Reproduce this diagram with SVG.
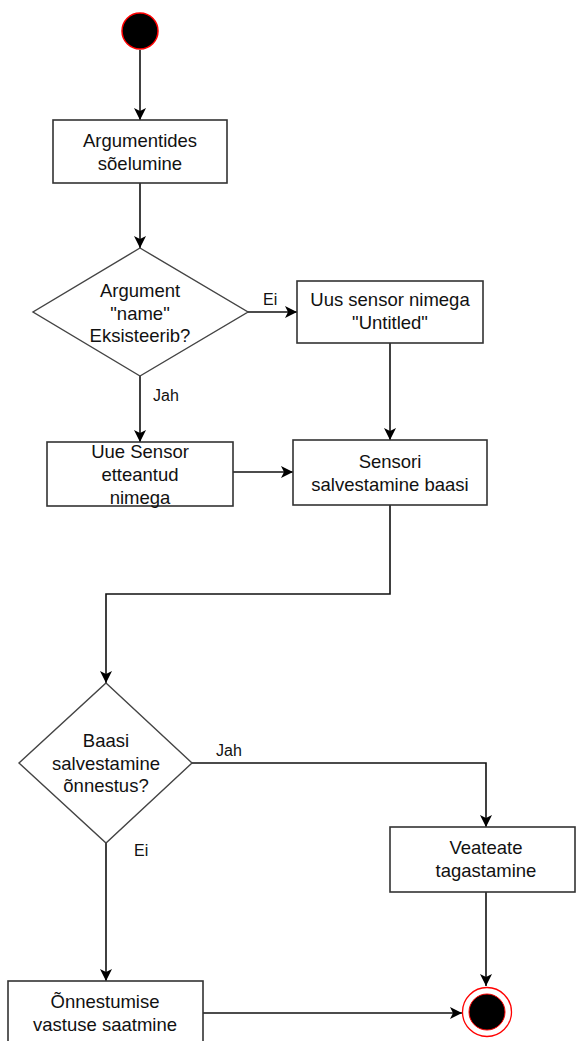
<svg xmlns="http://www.w3.org/2000/svg" width="576" height="1041" viewBox="0 0 576 1041">
  <style>
    .box { fill: #ffffff; stroke: #333333; stroke-width: 1.6; }
    .dia { fill: #ffffff; stroke: #444444; stroke-width: 1.4; }
    .txt { font-family: "Liberation Sans", Arial, sans-serif; font-size: 18.5px; fill: #111111; text-anchor: middle; }
    .lbl { font-family: "Liberation Sans", Arial, sans-serif; font-size: 16px; fill: #111111; }
    .edge { fill: none; stroke: #111111; stroke-width: 1.6; }
  </style>
  <defs>
    <marker id="arrow" viewBox="0 0 12 12" refX="12" refY="6" markerWidth="12" markerHeight="12" markerUnits="userSpaceOnUse" orient="auto">
      <path d="M0,0 L12,6 L0,12 L3,6 z" fill="#000000"/>
    </marker>
  </defs>

  <!-- connectors -->
  <g id="connectors">
    <line class="edge" x1="140" y1="50" x2="140" y2="120" marker-end="url(#arrow)"/>
    <line class="edge" x1="140" y1="183" x2="140" y2="248" marker-end="url(#arrow)"/>
    <line class="edge" x1="248" y1="312" x2="297" y2="312" marker-end="url(#arrow)"/>
    <line class="edge" x1="140" y1="376" x2="140" y2="442" marker-end="url(#arrow)"/>
    <line class="edge" x1="390" y1="343" x2="390" y2="440" marker-end="url(#arrow)"/>
    <line class="edge" x1="233" y1="472" x2="293" y2="472" marker-end="url(#arrow)"/>
    <polyline class="edge" points="390,505 390,594 106,594 106,683" marker-end="url(#arrow)"/>
    <polyline class="edge" points="192,763 486,763 486,827" marker-end="url(#arrow)"/>
    <line class="edge" x1="486" y1="892" x2="486" y2="986" marker-end="url(#arrow)"/>
    <line class="edge" x1="106" y1="843" x2="106" y2="981" marker-end="url(#arrow)"/>
    <line class="edge" x1="203" y1="1013" x2="462" y2="1013" marker-end="url(#arrow)"/>
    <text class="lbl" x="263" y="305">Ei</text>
    <text class="lbl" x="153" y="401">Jah</text>
    <text class="lbl" x="216" y="756">Jah</text>
    <text class="lbl" x="134" y="856">Ei</text>
  </g>

  <!-- start -->
  <g id="start">
    <circle cx="140" cy="31" r="18" fill="#000000" stroke="#ff0000" stroke-width="1.5"/>
  </g>

  <g id="parse-args">
    <rect class="box" x="53" y="120" width="174" height="63"/>
    <text class="txt" x="140" y="147">Argumentides</text>
    <text class="txt" x="140" y="170">sõelumine</text>
  </g>

  <g id="name-exists">
    <polygon class="dia" points="140,248 248,312 140,376 33,312"/>
    <text class="txt" x="140" y="297">Argument</text>
    <text class="txt" x="140" y="319.5">"name"</text>
    <text class="txt" x="140" y="342">Eksisteerib?</text>
  </g>

  <g id="sensor-untitled">
    <rect class="box" x="297" y="281" width="186" height="62"/>
    <text class="txt" x="390" y="306">Uus sensor nimega</text>
    <text class="txt" x="390" y="329">"Untitled"</text>
  </g>

  <g id="sensor-named">
    <rect class="box" x="47" y="442" width="186" height="64"/>
    <text class="txt" x="140" y="458">Uue Sensor</text>
    <text class="txt" x="140" y="481">etteantud</text>
    <text class="txt" x="140" y="504">nimega</text>
  </g>

  <g id="save-sensor">
    <rect class="box" x="293" y="440" width="194" height="65"/>
    <text class="txt" x="390" y="468">Sensori</text>
    <text class="txt" x="390" y="491">salvestamine baasi</text>
  </g>

  <g id="save-ok">
    <polygon class="dia" points="106,683 192,763 106,843 19,763"/>
    <text class="txt" x="106" y="747">Baasi</text>
    <text class="txt" x="106" y="770">salvestamine</text>
    <text class="txt" x="106" y="792">õnnestus?</text>
  </g>

  <g id="error-reply">
    <rect class="box" x="390" y="827" width="185" height="65"/>
    <text class="txt" x="486" y="854">Veateate</text>
    <text class="txt" x="486" y="877">tagastamine</text>
  </g>

  <g id="success-reply">
    <rect class="box" x="8" y="981" width="195" height="64"/>
    <text class="txt" x="105" y="1008">Õnnestumise</text>
    <text class="txt" x="105" y="1031">vastuse saatmine</text>
  </g>

  <!-- end -->
  <g id="end">
    <circle cx="487" cy="1012" r="24.5" fill="#ffffff" stroke="#ff0000" stroke-width="1.3"/>
    <circle cx="487" cy="1012" r="18" fill="#000000" stroke="#ff0000" stroke-width="1"/>
  </g>
</svg>
